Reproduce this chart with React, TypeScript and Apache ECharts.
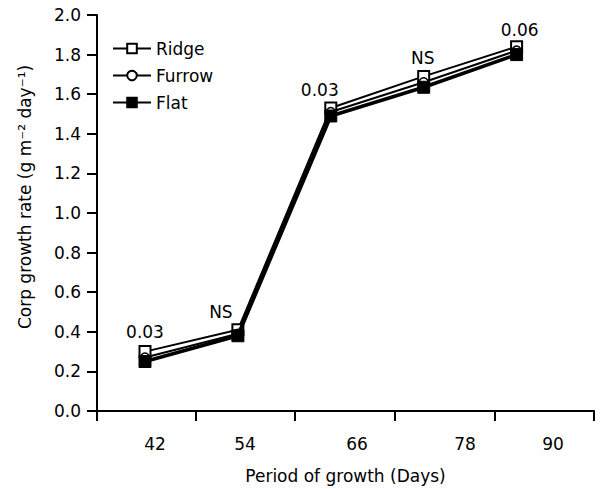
import React, { useEffect, useRef } from "react";
import * as echarts from "echarts";

const days = [42, 54, 66, 78, 90];
const tickLabels = ["42", "54", "66", "78", "90"];
const ridge = [0.30, 0.41, 1.53, 1.69, 1.84];
const furrow = [0.27, 0.39, 1.51, 1.66, 1.82];
const flat = [0.25, 0.38, 1.49, 1.635, 1.80];
const annotations = ["0.03", "NS", "0.03", "NS", "0.06"];

// layout (axis units in days) for the hand-drawn tick marks and shifted labels
const tickPositions = [35.8, 48.59, 61.38, 74.29, 87.21, 100];
const labelPositions = [43.29, 54.92, 69.39, 83.34, 94.7];
const annotationOffsets: [number, number][] = [
  [0, 0],
  [-17, 2],
  [-11, 2],
  [-1, 2],
  [3, 3],
];

const FONT = "DejaVu Sans";
const FS = 17;

export default function App() {
  const ref = useRef<HTMLDivElement>(null);
  useEffect(() => {
    if (!ref.current) return;
    const chart = echarts.init(ref.current, undefined, { renderer: "svg" });
    const mk = (vals: number[]) => days.map((d, i) => [d, vals[i]]);
    chart.setOption({
      animation: false,
      textStyle: { fontFamily: FONT, color: "#000" },
      grid: { left: 97, right: 6, top: 15, bottom: 77 },
      legend: {
        orient: "vertical",
        left: 107,
        top: 35,
        itemWidth: 38,
        itemHeight: 12,
        itemGap: 10,
        textStyle: { fontFamily: FONT, fontSize: FS, color: "#000" },
        data: ["Ridge", "Furrow", "Flat"],
      },
      xAxis: {
        type: "value",
        min: 35.8,
        max: 100,
        splitLine: { show: false },
        axisLine: { lineStyle: { color: "#000", width: 2 } },
        axisTick: {
          show: true,
          customValues: tickPositions,
          length: 10,
          lineStyle: { color: "#000", width: 2 },
        },
        axisLabel: {
          customValues: labelPositions,
          fontFamily: FONT,
          fontSize: FS,
          color: "#000",
          margin: 24,
          formatter: (v: number) => {
            let best = 0;
            labelPositions.forEach((p, i) => {
              if (Math.abs(p - v) < Math.abs(labelPositions[best] - v)) best = i;
            });
            return tickLabels[best];
          },
        },
        name: "Period of growth (Days)",
        nameLocation: "middle",
        nameGap: 56,
        nameTextStyle: { fontFamily: FONT, fontSize: FS, color: "#000" },
      },
      yAxis: {
        type: "value",
        min: 0,
        max: 2,
        interval: 0.2,
        splitLine: { show: false },
        axisLine: { show: true, lineStyle: { color: "#000", width: 2 } },
        axisTick: { show: true, length: 10, lineStyle: { color: "#000", width: 2 } },
        axisLabel: {
          fontFamily: FONT,
          fontSize: FS,
          color: "#000",
          margin: 16,
          formatter: (v: number) => v.toFixed(1),
        },
        name: "Corp growth rate (g m\u207B\u00B2 day\u207B\u00B9)",
        nameLocation: "middle",
        nameRotate: 90,
        nameGap: 64,
        nameTextStyle: {
          fontFamily: FONT,
          fontSize: FS,
          color: "#000",
          padding: [0, 0, 0, 32],
        },
      },
      series: [
        {
          name: "Ridge",
          type: "line",
          data: mk(ridge).map((p, i) => ({
            value: p,
            label: {
              show: true,
              position: "top",
              offset: annotationOffsets[i],
              formatter: annotations[i],
              fontFamily: FONT,
              fontSize: FS,
              color: "#000",
              distance: 5,
            },
          })),
          symbol: "rect",
          symbolSize: 11,
          itemStyle: { color: "#fff", borderColor: "#000", borderWidth: 2 },
          lineStyle: { color: "#000", width: 2 },
          z: 3,
        },
        {
          name: "Furrow",
          type: "line",
          data: mk(furrow),
          symbol: "circle",
          symbolSize: 9,
          itemStyle: { color: "#fff", borderColor: "#000", borderWidth: 1.5 },
          lineStyle: { color: "#000", width: 2 },
          z: 4,
        },
        {
          name: "Flat",
          type: "line",
          data: mk(flat),
          symbol: "rect",
          symbolSize: 12,
          itemStyle: { color: "#000", borderColor: "#000", borderWidth: 1 },
          lineStyle: { color: "#000", width: 3.5 },
          z: 5,
        },
      ],
    });
    return () => chart.dispose();
  }, []);
  return (
    <div
      ref={ref}
      style={{ position: "fixed", left: 0, top: 0, width: 600, height: 489, background: "#fff" }}
    />
  );
}
